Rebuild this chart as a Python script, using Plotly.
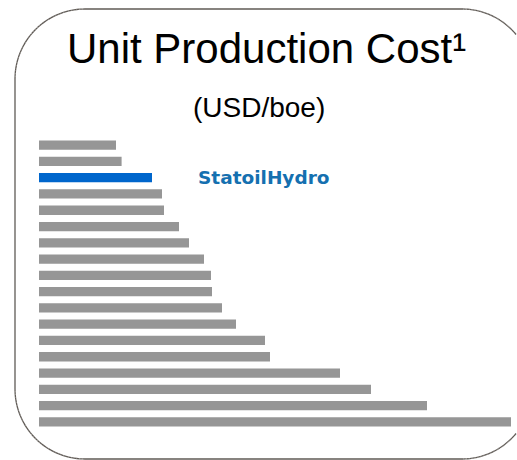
import math
import plotly.graph_objects as go

# Data (relative units)
companies = [f"Company {i}" for i in range(1, 19)]
companies[2] = "StatoilHydro"
unit_cost = [3.85, 4.13, 5.65, 6.15, 6.25, 7.0, 7.5, 8.25, 8.6, 8.65,
             9.15, 9.85, 11.3, 11.55, 15.05, 16.6, 19.4, 23.6]
highlight = "StatoilHydro"

W, H = 517, 460
L, R, T, B = 39, 6, 137, 30
PW, PH = W - L - R, H - T - B

def px(x):
    return (x - L) / PW

def py(y):
    return (H - B - y) / PH

colors = ["#0066CC" if c == highlight else "#969696" for c in companies]

fig = go.Figure(go.Bar(
    x=unit_cost, y=companies, orientation="h",
    marker=dict(color=colors, line=dict(width=0)),
    width=0.57, hoverinfo="skip",
))

# rounded frame; its right side lies beyond the page edge
x0, y0, x1, y1, r = 15, 9, 532, 459, 70
xmax = 516.0

def arc(cx, cy, a0, a1, n=40):
    pts = []
    for i in range(n + 1):
        a = math.radians(a0 + (a1 - a0) * i / n)
        pts.append((cx + r * math.cos(a), cy - r * math.sin(a)))
    return pts

t0 = math.degrees(math.acos((xmax - (x1 - r)) / r))
top_right = arc(x1 - r, y0 + r, t0, 90)
bottom_right = arc(x1 - r, y1 - r, 270, 360 - t0)
left_part = (arc(x0 + r, y0 + r, 90, 180) + arc(x0 + r, y1 - r, 180, 270))

def seg_path(a, b):
    return f"M {px(a[0]):.5f},{py(a[1]):.5f} L {px(b[0]):.5f},{py(b[1]):.5f}"

frame_line = dict(color="#5F5A55", width=1.3)
# draw the frame as many short straight segments (each its own line shape)
pts = top_right + left_part + bottom_right
for a, b in zip(pts[:-1], pts[1:]):
    fig.add_shape(type="line", x0=px(a[0]), y0=py(a[1]), x1=px(b[0]), y1=py(b[1]),
                  xref="paper", yref="paper", line=frame_line, layer="below")

fig.add_annotation(text="Unit Production Cost¹", xref="paper", yref="paper",
                   x=px(266), y=py(49), xanchor="center", yanchor="middle",
                   showarrow=False,
                   font=dict(family="Liberation Sans, Arial", size=42, color="#000000"))
fig.add_annotation(text="(USD/boe)", xref="paper", yref="paper",
                   x=px(259), y=py(107), xanchor="center", yanchor="middle",
                   showarrow=False,
                   font=dict(family="Liberation Sans, Arial", size=28, color="#000000"))
fig.add_annotation(text="<b>StatoilHydro</b>", xref="x", yref="y",
                   x=(196 - L) / PW * max(unit_cost), y=highlight,
                   xanchor="left", yanchor="middle", showarrow=False,
                   font=dict(family="DejaVu Sans", size=18.5, color="#1570B0"))

fig.update_layout(
    width=W, height=H,
    margin=dict(l=L, r=R, t=T, b=B, autoexpand=False),
    paper_bgcolor="white", plot_bgcolor="white",
    showlegend=False, bargap=0.43,
    xaxis=dict(range=[0, max(unit_cost)], visible=False, fixedrange=True),
    yaxis=dict(autorange="reversed", visible=False, fixedrange=True),
)

fig.write_html(
    "out.html",
    config={"displayModeBar": False},
    post_script="document.body.style.margin='0';document.body.style.overflow='hidden';",
)
